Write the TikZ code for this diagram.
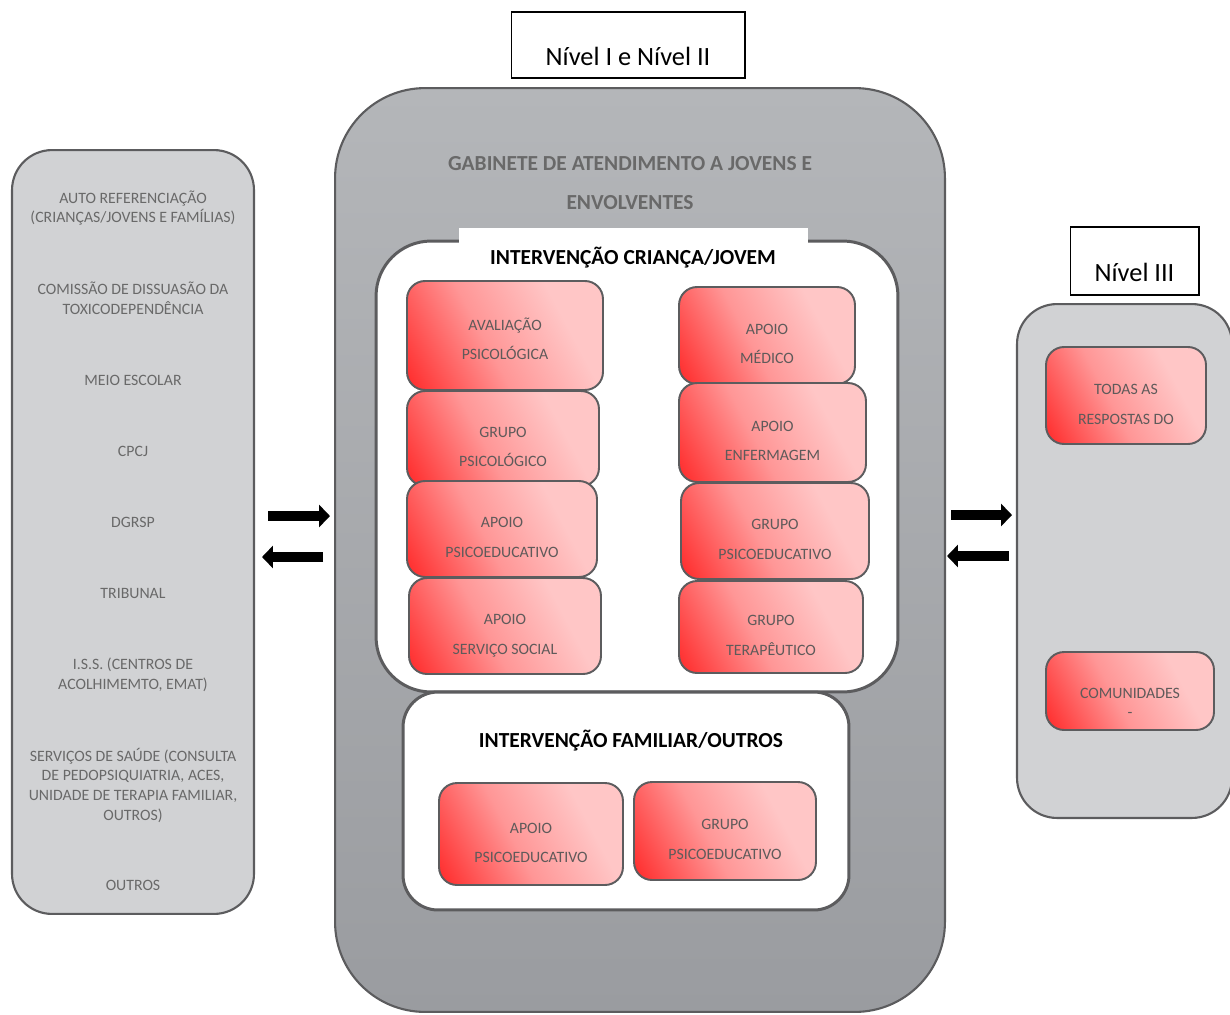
\documentclass[tikz,border=0pt]{standalone}
\usepackage{fontspec}
\setmainfont{Carlito}
\usetikzlibrary{arrows.meta}
\definecolor{panelgray}{RGB}{209,210,212}
\definecolor{edgegray}{RGB}{92,92,94}
\definecolor{labelgray}{RGB}{105,105,105}
\definecolor{boxtext}{RGB}{95,90,90}
\definecolor{gabtop}{RGB}{180,182,185}
\definecolor{gabbot}{RGB}{154,156,160}
\definecolor{rred}{RGB}{255,48,48}
\definecolor{rmid}{RGB}{255,150,150}
\definecolor{rpink}{RGB}{255,198,198}
\pgfdeclareverticalshading{redfade}{100bp}{color(0bp)=(rred); color(18bp)=(rred); color(44bp)=(rmid); color(68bp)=(rpink); color(100bp)=(rpink)}
\newcommand{\boxlines}[3][18.2pt]% first line height, line 1, line 2
{\rule{0pt}{#1}#2\\#3\rule[-3pt]{0pt}{3pt}}

\begin{document}
\begin{tikzpicture}[x=0.02cm,y=-0.02cm,
	panel/.style={draw=edgegray, line width=1.2pt, fill=panelgray, rounded corners=8mm, inner sep=0pt},
	whitebox/.style={draw=edgegray, line width=1.7pt, fill=white, inner sep=0pt},
	redbox/.style={draw=edgegray, line width=1.1pt, rounded corners=3.6mm, shade, shading=redfade, shading angle=-62, text=boxtext, align=center, font=\fontsize{9}{16.8}\selectfont, inner sep=0pt},
	srctext/.style={text=labelgray, align=center, font=\fontsize{9}{11.2}\selectfont},
	titletext/.style={align=center, font=\fontsize{12.2}{22}\selectfont\bfseries},
	levelbox/.style={draw, line width=0.6pt, fill=white, inner sep=0pt},
	leveltext/.style={anchor=base, font=\fontsize{15}{18}\selectfont},
	fatarrow/.style={line width=5.6pt, -{Triangle[length=6.2pt,width=12.5pt]}}]
	\useasboundingbox (0,0) rectangle (1230,1014);
	% referrals
	\node[panel, minimum width=48.4mm, minimum height=152.8mm] (src) at (133,532) {};
	\node[srctext] (src1) at (133,208) {AUTO REFERENCIAÇÃO\\(CRIANÇAS/JOVENS E FAMÍLIAS)};
	\node[srctext] (src2) at (133,298.5) {COMISSÃO DE DISSUASÃO DA\\TOXICODEPENDÊNCIA};
	\node[srctext] (src3) at (133,380) {MEIO ESCOLAR};
	\node[srctext] (src4) at (133,451) {CPCJ};
	\node[srctext] (src5) at (133,522) {DGRSP};
	\node[srctext] (src6) at (133,593) {TRIBUNAL};
	\node[srctext] (src7) at (133,674.5) {I.S.S. (CENTROS DE\\ACOLHIMEMTO, EMAT)};
	\node[srctext] (src8) at (133,785) {SERVIÇOS DE SAÚDE (CONSULTA\\DE PEDOPSIQUIATRIA, ACES,\\UNIDADE DE TERAPIA FAMILIAR,\\OUTROS)};
	\node[srctext] (src9) at (133,885) {OUTROS};
	% gabinete
	\node[levelbox, minimum width=46.8mm, minimum height=13.2mm] (lvl12) at (628,45) {};
	\node[leveltext] (lvl12t) at (628,65) {Nível I e Nível II};
	\node[draw=edgegray, line width=1.2pt, top color=gabtop, bottom color=gabbot, rounded corners=18mm, minimum width=122mm, minimum height=184.8mm, inner sep=0pt] (gab) at (640,550) {};
	\node[titletext, text=labelgray] (gabtitle) at (630,183) {GABINETE DE ATENDIMENTO A JOVENS E\\ENVOLVENTES};
	% crianca/jovem
	\node[whitebox, rounded corners=11mm, minimum width=104.4mm, minimum height=90.2mm] (crianca) at (637,466.5) {};
	\node[fill=white, minimum width=69.8mm, minimum height=6.8mm, inner sep=0pt] (criancahead) at (633.5,245) {};
	\node[titletext] (criancatitle) at (633,258) {INTERVENÇÃO CRIANÇA/JOVEM};
	\node[redbox, minimum width=39.2mm, minimum height=21.8mm] (aval) at (505,335.5) {\boxlines[14pt]{AVALIAÇÃO}{PSICOLÓGICA}};
	\node[redbox, minimum width=38.4mm, minimum height=19mm] (gpsico) at (503,438.5) {\boxlines{GRUPO}{PSICOLÓGICO}};
	\node[redbox, minimum width=38mm, minimum height=19.2mm] (apsicoed) at (502,529) {\boxlines{APOIO}{PSICOEDUCATIVO}};
	\node[redbox, minimum width=38.4mm, minimum height=19.2mm] (social) at (505,626) {\boxlines{APOIO}{SERVIÇO SOCIAL}};
	\node[redbox, minimum width=35.2mm, minimum height=19.4mm] (medico) at (767,335.5) {\boxlines{APOIO}{MÉDICO}};
	\node[redbox, minimum width=37.4mm, minimum height=19.8mm] (enferm) at (772.5,432.5) {\boxlines{APOIO}{ENFERMAGEM}};
	\node[redbox, minimum width=37.6mm, minimum height=19.2mm] (gpsicoed) at (775,531) {\boxlines{GRUPO}{PSICOEDUCATIVO}};
	\node[redbox, minimum width=36.8mm, minimum height=18.4mm] (terap) at (771,627) {\boxlines{GRUPO}{TERAPÊUTICO}};
	% familiar/outros
	\node[whitebox, rounded corners=7mm, minimum width=89.2mm, minimum height=43.6mm] (familiar) at (626,801) {};
	\node[titletext] (familiartitle) at (631,741) {INTERVENÇÃO FAMILIAR/OUTROS};
	\node[redbox, minimum width=36.8mm, minimum height=20.4mm] (fapoio) at (531,834) {\boxlines[19pt]{APOIO}{PSICOEDUCATIVO}};
	\node[redbox, minimum width=36.4mm, minimum height=19.6mm] (fgrupo) at (725,831) {\boxlines{GRUPO}{PSICOEDUCATIVO}};
	% nivel III
	\node[levelbox, minimum width=25.8mm, minimum height=13.6mm] (lvl3) at (1134.5,261) {};
	\node[leveltext] (lvl3t) at (1134.5,281) {Nível III};
	\node[panel, minimum width=43mm, minimum height=102.8mm] (nivel3) at (1124.5,561) {};
	\node[redbox, minimum width=32mm, minimum height=19.4mm] (todas) at (1126,395.5) {\boxlines[19pt]{TODAS AS}{RESPOSTAS DO}};
	\node[redbox, minimum width=33.6mm, minimum height=15.6mm, font=\fontsize{9}{10.8}\selectfont] (comun) at (1130,691) {\boxlines[21.8pt]{COMUNIDADES}{-}};
	% arrows
	\coordinate (l1a) at (268,516);
	\coordinate (l1b) at (330,516);
	\coordinate (l2a) at (323,557);
	\coordinate (l2b) at (262,557);
	\coordinate (r1a) at (951,515);
	\coordinate (r1b) at (1012,515);
	\coordinate (r2a) at (1009,556);
	\coordinate (r2b) at (947,556);
	\draw[fatarrow] (l1a) -- (l1b);
	\draw[fatarrow] (l2a) -- (l2b);
	\draw[fatarrow] (r1a) -- (r1b);
	\draw[fatarrow] (r2a) -- (r2b);
\end{tikzpicture}
\end{document}
